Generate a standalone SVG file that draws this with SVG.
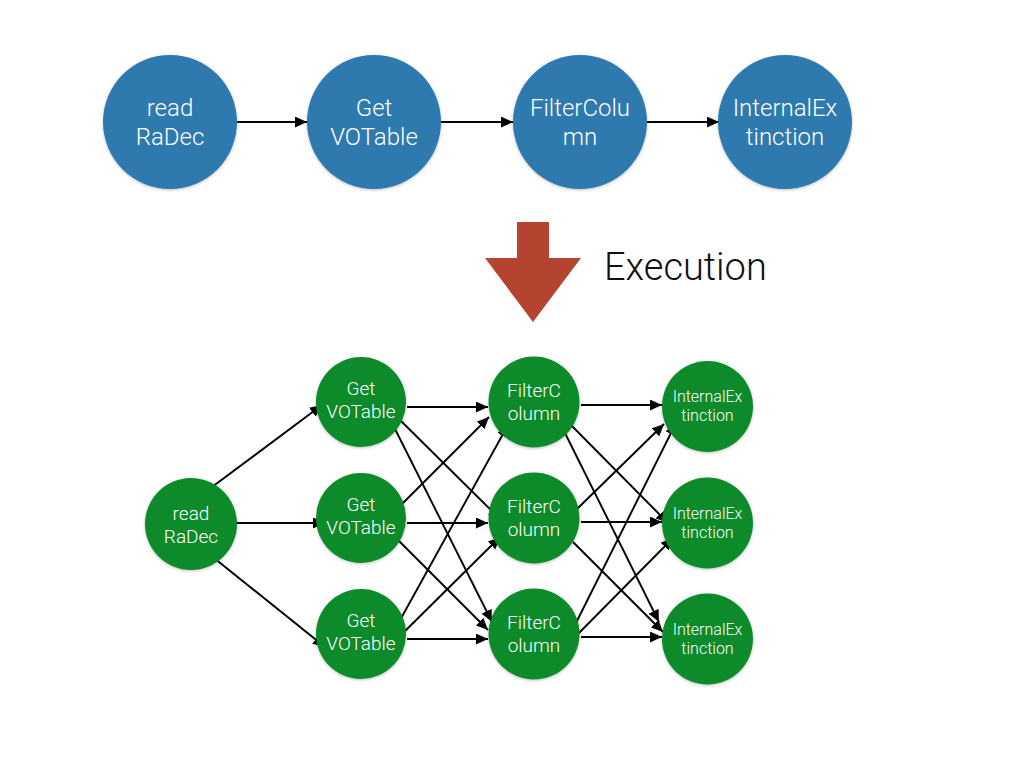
<svg xmlns="http://www.w3.org/2000/svg" width="1024" height="768" viewBox="0 0 1024 768">
<defs>
<marker id="ah" markerUnits="userSpaceOnUse" markerWidth="13" markerHeight="11" refX="12" refY="5.5" orient="auto">
<path d="M0,0 L12,5.5 L0,11 Z" fill="#000"/>
</marker>
<filter id="sh" x="-20%" y="-20%" width="140%" height="140%">
<feDropShadow dx="0" dy="1" stdDeviation="1.5" flood-color="#000" flood-opacity="0.25"/>
</filter>
</defs>
<style>
.blue{fill:#2F79AE;filter:url(#sh)}
.green{fill:#0F8A2C;filter:url(#sh)}
.t{font-family:Roboto,"Liberation Sans",Arial,sans-serif;font-weight:300;fill:#fff;text-anchor:middle}
.tl{font-size:24px}
.tg{font-size:19px}
.ti{font-size:16px}
.c line{stroke:#000;stroke-width:1.9;marker-end:url(#ah)}
</style>
<rect width="1024" height="768" fill="#fff"/>

<g id="connectors" class="c">
<line x1="236" y1="122" x2="307" y2="122"/>
<line x1="441" y1="122" x2="513" y2="122"/>
<line x1="647" y1="122" x2="719" y2="122"/>

<line x1="212" y1="487" x2="322" y2="405"/>
<line x1="226" y1="523" x2="325" y2="523"/>
<line x1="214" y1="558" x2="325" y2="647"/>

<line x1="407" y1="407" x2="488" y2="407"/>
<line x1="400" y1="420" x2="500" y2="519"/>
<line x1="393" y1="425" x2="492" y2="622"/>
<line x1="400" y1="506" x2="489" y2="417"/>
<line x1="407" y1="523" x2="488" y2="523"/>
<line x1="398" y1="540" x2="488" y2="630"/>
<line x1="399" y1="622" x2="508" y2="425"/>
<line x1="400" y1="636" x2="500" y2="537"/>
<line x1="407" y1="639" x2="488" y2="639"/>

<line x1="581" y1="405" x2="662" y2="405"/>
<line x1="568" y1="422" x2="668" y2="523"/>
<line x1="562" y1="427" x2="659" y2="622"/>
<line x1="577" y1="509" x2="664" y2="424"/>
<line x1="581" y1="522" x2="662" y2="522"/>
<line x1="573" y1="542" x2="663" y2="632"/>
<line x1="575" y1="625" x2="676" y2="423"/>
<line x1="575" y1="637" x2="673" y2="538"/>
<line x1="581" y1="637" x2="662" y2="637"/>
</g>

<g id="top-readRaDec"><circle class="blue" cx="170" cy="122" r="67"/><text class="t tl" x="170" y="116">read</text><text class="t tl" x="170" y="145">RaDec</text></g>
<g id="top-GetVOTable"><circle class="blue" cx="374" cy="122" r="67"/><text class="t tl" x="374" y="116">Get</text><text class="t tl" x="374" y="145">VOTable</text></g>
<g id="top-FilterColumn"><circle class="blue" cx="580" cy="122" r="67"/><text class="t tl" x="580" y="116">FilterColu</text><text class="t tl" x="580" y="145">mn</text></g>
<g id="top-InternalExtinction"><circle class="blue" cx="785" cy="122" r="67"/><text class="t tl" x="785" y="116">InternalEx</text><text class="t tl" x="785" y="145">tinction</text></g>

<g id="execution-arrow"><polygon points="517,222 549,222 549,258 581,258 533,322 485,258 517,258" fill="#B4432F"/><text x="604" y="280" font-family="Roboto,'Liberation Sans',Arial,sans-serif" font-weight="300" font-size="38" fill="#111">Execution</text></g>

<g id="readRaDec"><circle class="green" cx="191" cy="524" r="46"/><text class="t tg" x="191" y="520">read</text><text class="t tg" x="191" y="543">RaDec</text></g>

<g id="GetVOTable1"><circle class="green" cx="361" cy="402" r="45"/><text class="t tg" x="361" y="395">Get</text><text class="t tg" x="361" y="418">VOTable</text></g>
<g id="GetVOTable2"><circle class="green" cx="361" cy="518" r="45"/><text class="t tg" x="361" y="511">Get</text><text class="t tg" x="361" y="534">VOTable</text></g>
<g id="GetVOTable3"><circle class="green" cx="361" cy="634" r="45"/><text class="t tg" x="361" y="627">Get</text><text class="t tg" x="361" y="650">VOTable</text></g>

<g id="FilterColumn1"><circle class="green" cx="534" cy="402" r="45.5"/><text class="t tg" x="534" y="397">FilterC</text><text class="t tg" x="534" y="420">olumn</text></g>
<g id="FilterColumn2"><circle class="green" cx="534" cy="518" r="45.5"/><text class="t tg" x="534" y="513">FilterC</text><text class="t tg" x="534" y="536">olumn</text></g>
<g id="FilterColumn3"><circle class="green" cx="534" cy="634" r="45.5"/><text class="t tg" x="534" y="629">FilterC</text><text class="t tg" x="534" y="652">olumn</text></g>

<g id="InternalExtinction1"><circle class="green" cx="707.5" cy="406.5" r="45.5"/><text class="t ti" x="707.5" y="402">InternalEx</text><text class="t ti" x="707.5" y="421">tinction</text></g>
<g id="InternalExtinction2"><circle class="green" cx="707.5" cy="523" r="45.5"/><text class="t ti" x="707.5" y="519">InternalEx</text><text class="t ti" x="707.5" y="538">tinction</text></g>
<g id="InternalExtinction3"><circle class="green" cx="707.5" cy="639" r="45.5"/><text class="t ti" x="707.5" y="635">InternalEx</text><text class="t ti" x="707.5" y="654">tinction</text></g>
</svg>
